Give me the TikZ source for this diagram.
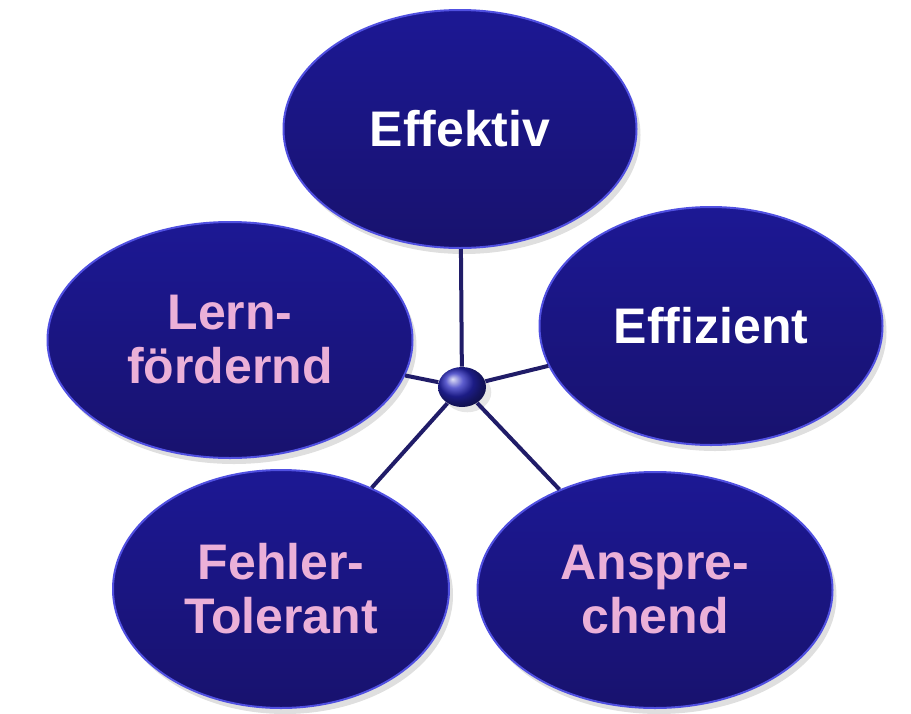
\documentclass[tikz,border=0pt]{standalone}
\usepackage{fontspec}
\setmainfont{Liberation Sans}
\usetikzlibrary{shapes.geometric,shadows}
\definecolor{navy}{RGB}{28,24,148}
\definecolor{navydark}{RGB}{24,18,110}
\definecolor{rimblue}{RGB}{80,80,225}
\definecolor{hubblue}{RGB}{40,40,190}
\definecolor{spokeblue}{RGB}{32,28,104}
\definecolor{lilac}{RGB}{235,176,216}

\begin{document}
\begin{tikzpicture}[x=0.5pt, y=-0.5pt,
  goal/.style={ellipse, inner sep=0pt, top color=navy, bottom color=navydark,
    draw=rimblue, line width=1pt,
    drop shadow={opacity=0.25, shadow xshift=2pt, shadow yshift=-3pt},
    font=\bfseries\fontsize{25}{27}\selectfont, align=center},
  spoke/.style={draw=spokeblue, line width=2pt}]
  \useasboundingbox (0,0) rectangle (911,713);
  \node[ellipse, ball color=hubblue, minimum width=24pt, minimum height=20pt,
    inner sep=0pt, drop shadow={opacity=0.2}] (hub) at (462,387) {};
  \node[goal, minimum width=176.5pt, minimum height=119pt, text=white] (eff) at (460,129) {Effektiv};
  \node[goal, minimum width=182.5pt, minimum height=118pt, text=lilac] (lern) at (230,340) {Lern-\\fördernd};
  \node[goal, minimum width=171.5pt, minimum height=119pt, text=white] (effz) at (711,326) {Effizient};
  \node[goal, minimum width=168pt, minimum height=119pt, text=lilac] (fehler) at (281,589) {Fehler-\\Tolerant};
  \node[goal, minimum width=177.5pt, minimum height=118pt, text=lilac] (anspr) at (655,590) {Anspre-\\chend};
  \draw[spoke] (hub) -- (eff);
  \draw[spoke] (hub) -- (lern);
  \draw[spoke] (hub) -- (effz);
  \draw[spoke] (hub) -- (fehler);
  \draw[spoke] (hub) -- (anspr);
\end{tikzpicture}
\end{document}
